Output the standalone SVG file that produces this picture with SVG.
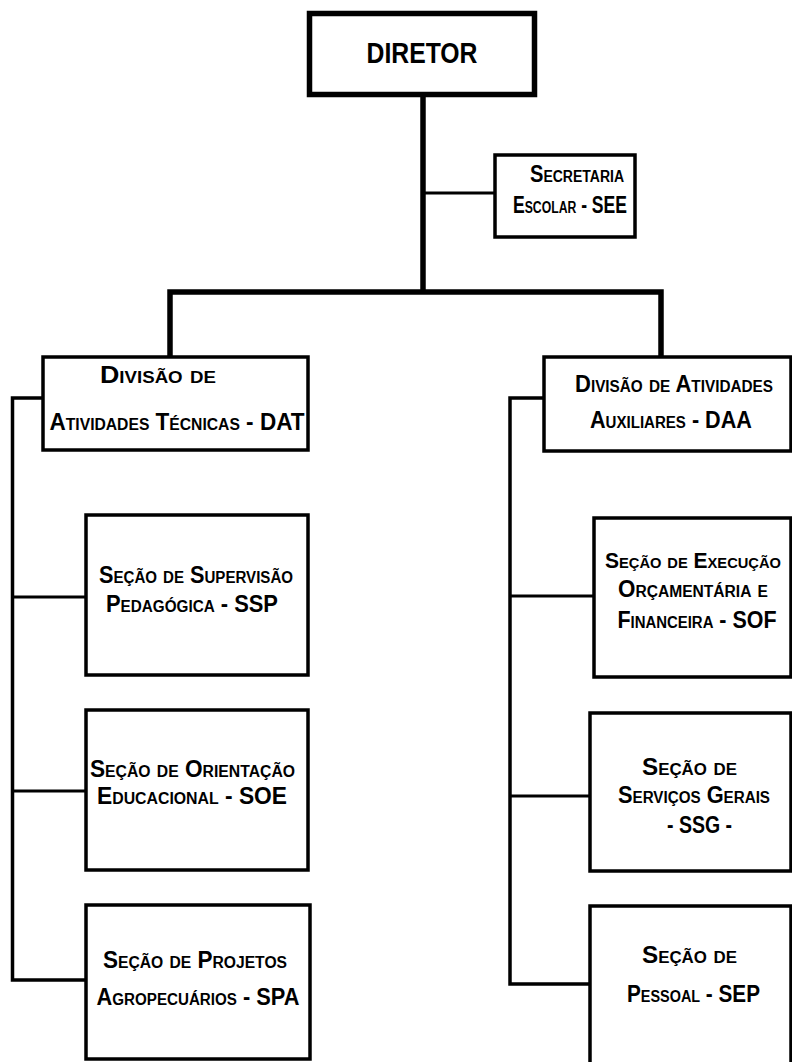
<svg xmlns="http://www.w3.org/2000/svg" width="792" height="1062" viewBox="0 0 792 1062">
<style>
.box{fill:#fff;stroke:#000;stroke-width:3.5}
.boss{fill:#fff;stroke:#000;stroke-width:5.5}
.thick{fill:none;stroke:#000;stroke-width:5.5}
.conn{fill:none;stroke:#000;stroke-width:2.8}
.spine{fill:none;stroke:#000;stroke-width:3.5}
text{font-family:"Liberation Sans",Arial,sans-serif;font-weight:bold;font-size:23px;font-variant:small-caps;fill:#000;text-anchor:middle}
.big{font-size:29px;font-variant:normal}
.tight{font-size:21.5px}
</style>
<rect width="792" height="1062" fill="#fff"/>
<g id="connectors">
<path class="thick" d="M423 95 V292"/>
<path class="thick" d="M170 357 V292 H661 V357"/>
<path class="conn" d="M423 193 H495"/>
<path class="spine" d="M43 398 H12.5 V980 H86"/>
<path class="conn" d="M12.5 597 H86"/>
<path class="conn" d="M12.5 791 H86"/>
<path class="spine" d="M544 398 H510 V984 H590"/>
<path class="conn" d="M510 596 H594"/>
<path class="conn" d="M510 796 H590"/>
</g>
<g id="diretor">
<rect class="boss" x="309.5" y="13.5" width="225" height="81"/>
<text class="big" x="422" y="63" textLength="111" lengthAdjust="spacingAndGlyphs">DIRETOR</text>
</g>
<g id="see">
<rect class="box" x="495" y="155" width="140" height="82"/>
<text x="577" y="182" textLength="94" lengthAdjust="spacingAndGlyphs">Secretaria</text>
<text x="570" y="213" textLength="114" lengthAdjust="spacingAndGlyphs">Escolar - SEE</text>
</g>
<g id="dat">
<rect class="box" x="43" y="357" width="265" height="93"/>
<text x="158" y="383" textLength="116" lengthAdjust="spacingAndGlyphs">Divisão de</text>
<text x="177" y="430" textLength="255" lengthAdjust="spacingAndGlyphs">Atividades Técnicas - DAT</text>
</g>
<g id="daa">
<rect class="box" x="544" y="357" width="247" height="94"/>
<text x="674" y="392" textLength="198" lengthAdjust="spacingAndGlyphs">Divisão de Atividades</text>
<text x="671" y="428" textLength="162" lengthAdjust="spacingAndGlyphs">Auxiliares - DAA</text>
</g>
<g id="ssp">
<rect class="box" x="86" y="515" width="222" height="160"/>
<text x="196" y="583" textLength="194" lengthAdjust="spacingAndGlyphs">Seção de Supervisão</text>
<text x="192" y="612" textLength="172" lengthAdjust="spacingAndGlyphs">Pedagógica - SSP</text>
</g>
<g id="soe">
<rect class="box" x="86" y="710" width="222" height="160"/>
<text x="192.5" y="777" textLength="205" lengthAdjust="spacingAndGlyphs">Seção de Orientação</text>
<text x="192" y="804" textLength="190" lengthAdjust="spacingAndGlyphs">Educacional - SOE</text>
</g>
<g id="spa">
<rect class="box" x="86" y="905" width="224" height="154"/>
<text x="195" y="968" textLength="184" lengthAdjust="spacingAndGlyphs">Seção de Projetos</text>
<text x="198" y="1005" textLength="203" lengthAdjust="spacingAndGlyphs">Agropecuários - SPA</text>
</g>
<g id="sof">
<rect class="box" x="594" y="518" width="197" height="159"/>
<text class="tight" x="693" y="568" textLength="176" lengthAdjust="spacingAndGlyphs">Seção de Execução</text>
<text x="693" y="597" textLength="150" lengthAdjust="spacingAndGlyphs">Orçamentária e</text>
<text x="697" y="628" textLength="159" lengthAdjust="spacingAndGlyphs">Financeira - SOF</text>
</g>
<g id="ssg">
<rect class="box" x="590" y="713" width="201" height="158"/>
<text x="689.5" y="775" textLength="95" lengthAdjust="spacingAndGlyphs">Seção de</text>
<text x="694" y="803" textLength="152" lengthAdjust="spacingAndGlyphs">Serviços Gerais</text>
<text x="699.5" y="833" textLength="65" lengthAdjust="spacingAndGlyphs">- SSG -</text>
</g>
<g id="sep">
<rect class="box" x="590" y="906" width="201" height="170"/>
<text x="689.5" y="963" textLength="95" lengthAdjust="spacingAndGlyphs">Seção de</text>
<text x="693.5" y="1002" textLength="133" lengthAdjust="spacingAndGlyphs">Pessoal - SEP</text>
</g>
</svg>
